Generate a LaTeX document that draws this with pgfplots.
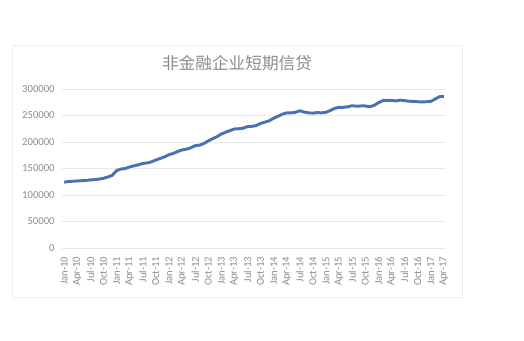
\documentclass[border=0pt]{standalone}
\usepackage{fontspec}
\setmainfont{Carlito}
\newfontfamily\cjk{Noto Sans CJK SC}
\usepackage{pgfplots}
\usepackage{pgfplotstable}
\pgfplotsset{compat=1.18}
\definecolor{linecol}{RGB}{74,114,178}
\definecolor{txtgray}{RGB}{140,140,140}
\definecolor{gridgray}{RGB}{232,232,232}
\definecolor{boxgray}{RGB}{238,238,238}
\pgfplotstableread{
m v
0 124000
1 125500
2 126000
3 126500
4 127000
5 127500
6 128500
7 129000
8 130000
9 131500
10 134000
11 137000
12 146000
13 149000
14 150000
15 153000
16 155000
17 157000
18 159500
19 160500
20 162500
21 166000
22 169000
23 172000
24 176000
25 178500
26 182000
27 185000
28 186500
29 189000
30 193000
31 194000
32 197000
33 202000
34 206000
35 210000
36 215000
37 218500
38 221500
39 224500
40 225000
41 226000
42 229000
43 229500
44 231000
45 235000
46 237500
47 240000
48 245000
49 248500
50 252500
51 255000
52 255000
53 256000
54 259000
55 256500
56 255000
57 254500
58 255500
59 255000
60 256000
61 259500
62 263500
63 265500
64 265500
65 266500
66 268500
67 267500
68 268000
69 268000
70 266500
71 269000
72 274000
73 278000
74 278500
75 278500
76 277500
77 279000
78 278000
79 277000
80 276500
81 276000
82 275500
83 276000
84 276500
85 281000
86 285500
87 286000
}\datatable
\begin{document}
\begin{tikzpicture}
\path (0,0) rectangle (393pt,255pt);
\draw[boxgray, line width=0.6pt] (9pt,32.25pt) rectangle (346.5pt,221.25pt);
\node[txtgray, font=\cjk\fontsize{12.5}{14}\selectfont] at (177.75pt,207.5pt) {非金融企业短期信贷};
\begin{axis}[
  at={(46.5pt,69pt)}, anchor=south west,
  scale only axis, width=288pt, height=119.25pt,
  xmin=-0.5, xmax=87.5, ymin=0, ymax=300000,
  ytick={0,50000,...,300000},
  scaled y ticks=false,
  yticklabel style={/pgf/number format/fixed, /pgf/number format/1000 sep={}},
  /pgf/number format/assume math mode=true,
  xtick={0,3,...,87},
  xticklabels={Jan-10,Apr-10,Jul-10,Oct-10,Jan-11,Apr-11,Jul-11,Oct-11,Jan-12,Apr-12,Jul-12,Oct-12,Jan-13,Apr-13,Jul-13,Oct-13,Jan-14,Apr-14,Jul-14,Oct-14,Jan-15,Apr-15,Jul-15,Oct-15,Jan-16,Apr-16,Jul-16,Oct-16,Jan-17,Apr-17},
  xticklabel style={rotate=90, anchor=east, font=\fontsize{8}{9}\selectfont, text=txtgray},
  yticklabel style={font=\fontsize{8}{9}\selectfont, text=txtgray},
  major tick length=0pt,
  axis line style={draw=none},
  ymajorgrids, grid style={gridgray, line width=0.6pt},
  xticklabel shift=3pt,
  yticklabel shift=2pt,
  clip=false,
]
\addplot[linecol, line width=2.2pt, line join=round, mark=none] table[x=m, y=v] {\datatable};
\end{axis}
\end{tikzpicture}
\end{document}
